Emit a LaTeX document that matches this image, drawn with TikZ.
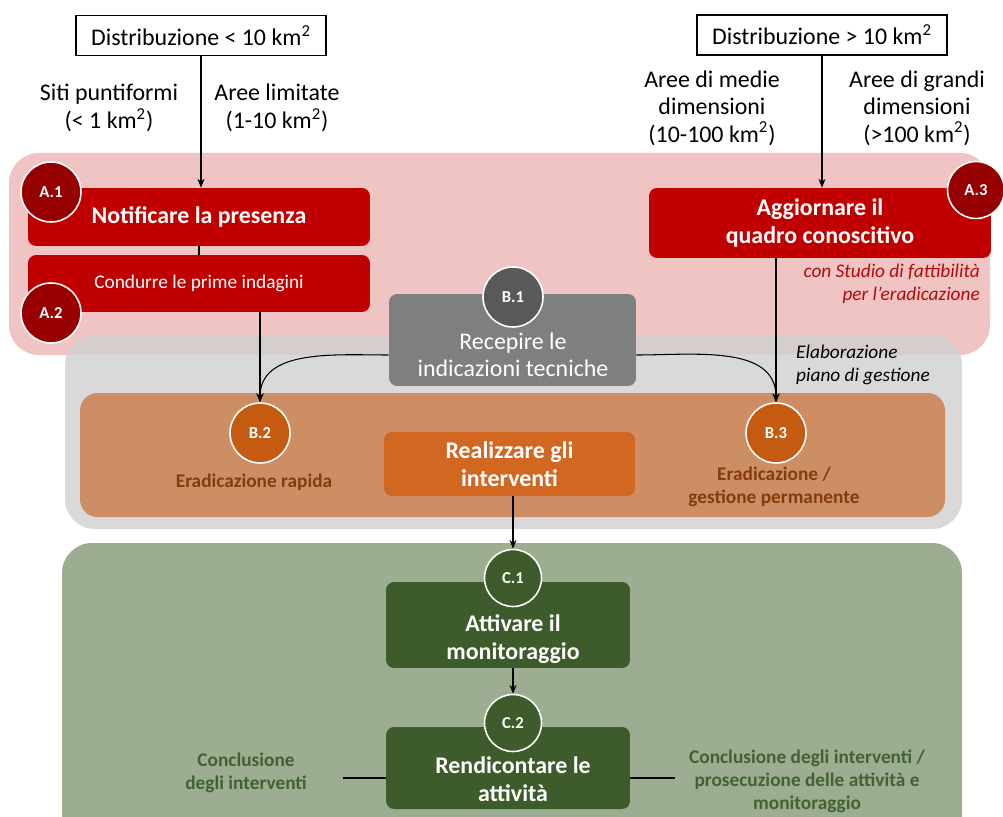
\documentclass[tikz,border=0pt]{standalone}
\usepackage{fontspec}
\setmainfont{Carlito}
\usetikzlibrary{arrows.meta, positioning, calc, backgrounds}
\definecolor{pinkbg}{RGB}{241,196,196}
\definecolor{greybg}{RGB}{208,208,208}
\definecolor{orangebg}{RGB}{206,142,101}
\definecolor{greenbg}{RGB}{156,173,145}
\definecolor{redbox}{RGB}{192,0,0}
\definecolor{redcirc}{RGB}{150,0,0}
\definecolor{greybox}{RGB}{127,127,127}
\definecolor{greycirc}{RGB}{89,89,89}
\definecolor{orangebox}{RGB}{209,103,33}
\definecolor{orangecirc}{RGB}{197,90,17}
\definecolor{browntext}{RGB}{132,60,12}
\definecolor{greenbox}{RGB}{61,91,43}
\definecolor{greentext}{RGB}{66,98,50}
\definecolor{italred}{RGB}{180,10,10}
\newcommand{\fsbig}{\fontsize{13.6}{15.6}\selectfont}
\newcommand{\fsmid}{\fontsize{11}{13}\selectfont}
\newcommand{\fscirc}{\fontsize{9.5}{11}\selectfont}
\newcommand{\kmq}{km\textsuperscript{2}}

\begin{document}
\begin{tikzpicture}[
        x=0.02cm, y=-0.02cm,
        region/.style={rounded corners=0.6cm, draw=none},
        distbox/.style={rectangle, draw=black, line width=0.7pt, fill=white, minimum width=5cm, minimum height=0.8cm, font=\fsbig},
        lbl/.style={align=center, font=\fsbig},
        stepbox/.style={rectangle, rounded corners=0.16cm, align=center, text=white, inner sep=0pt},
        numc/.style={circle, draw=white, line width=0.9pt, minimum size=1.2cm, inner sep=0pt, text=white, font=\fscirc\bfseries},
        wtext/.style={align=center, text=white, font=\fsbig},
        arr/.style={-{Stealth[length=5pt,width=4pt]}, line width=0.6pt}
    ]
        \useasboundingbox (0,0) rectangle (1003,817);
        \clip (0,0) rectangle (1003,817);

        % phase backgrounds
        \fill[region, pinkbg] (9,153) rectangle (990,355);
        \fill[region, greybg, fill opacity=0.8] (65,335) rectangle (962,529);
        \fill[region, orangebg, rounded corners=0.35cm] (80,393) rectangle (945,517);
        \fill[region, greenbg] (62,543) rectangle (962,860);

        % top: distribution
        \node[distbox] (dsmall) at (201,35.5) {Distribuzione < 10 \kmq};
        \node[distbox] (dlarge) at (822,35) {Distribuzione > 10 \kmq};
        \node[lbl] (siti) at (109,108) {Siti puntiformi\\(< 1 \kmq)};
        \node[lbl] (limit) at (277,108) {Aree limitate\\(1-10 \kmq)};
        \node[lbl] (medie) at (712,108) {Aree di medie\\dimensioni\\(10-100 \kmq)};
        \node[lbl] (grandi) at (917,108) {Aree di grandi\\dimensioni\\(>100 \kmq)};

        % phase A
        \node[stepbox, fill=redbox, minimum width=6.84cm, minimum height=1.16cm, font=\fsbig\bfseries] (a1) at (199,217) {Notificare la presenza};
        \node[stepbox, fill=redbox, minimum width=6.84cm, minimum height=1.14cm, font=\fsmid] (a2) at (199,283.5) {Condurre le prime indagini};
        \node[stepbox, fill=redbox, minimum width=6.84cm, minimum height=1.4cm, font=\fsbig\bfseries] (a3) at (820,223) {Aggiornare il\\quadro conoscitivo};
        \node[numc, fill=redcirc] (ca1) at (51,192) {A.1};
        \node[numc, fill=redcirc] (ca2) at (51,313) {A.2};
        \node[numc, fill=redcirc, minimum size=1.14cm] (ca3) at (976,190) {A.3};
        \node[align=right, anchor=east, text=italred, font=\fsmid\itshape] (studio) at (986,284) {con Studio di fattibilità\\per l’eradicazione};

        % phase B
        \node[stepbox, fill=greybox, minimum width=4.94cm, minimum height=1.84cm] (b1) at (512.5,340) {};
        \node[wtext] (b1t) at (513,355) {Recepire le\\indicazioni tecniche};
        \node[numc, fill=greycirc] (cb1) at (513,297) {B.1};
        \node[stepbox, fill=orangebox, minimum width=5.02cm, minimum height=1.28cm, font=\fsbig\bfseries] (b4) at (509.5,464) {Realizzare gli\\interventi};
        \node[numc, fill=orangecirc] (cb2) at (260,433) {B.2};
        \node[numc, fill=orangecirc] (cb3) at (776,433) {B.3};
        \node[align=center, text=browntext, font=\fsmid\bfseries] (rapida) at (254,482) {Eradicazione rapida};
        \node[align=center, text=browntext, font=\fsmid\bfseries] (perm) at (774,487) {Eradicazione /\\gestione permanente};
        \node[align=left, anchor=west, font=\fsmid\itshape] (piano) at (790,365) {Elaborazione\\piano di gestione};

        % phase C
        \node[stepbox, fill=greenbox, minimum width=4.88cm, minimum height=1.72cm] (c1) at (508,625) {};
        \node[wtext, font=\fsbig\bfseries] (c1t) at (513,639) {Attivare il\\monitoraggio};
        \node[numc, fill=greenbox, minimum size=1.14cm] (cc1) at (513,578) {C.1};
        \node[stepbox, fill=greenbox, minimum width=4.88cm, minimum height=1.64cm] (c2) at (508,768) {};
        \node[wtext, font=\fsbig\bfseries] (c2t) at (513,779) {Rendicontare le\\attività};
        \node[numc, fill=greenbox, minimum size=1.14cm] (cc2) at (513,723) {C.2};
        \node[align=center, text=greentext, font=\fsmid\bfseries] (concl) at (246,773) {Conclusione\\degli interventi};
        \node[align=center, text=greentext, font=\fsmid\bfseries] (prosec) at (807,781) {Conclusione degli interventi /\\prosecuzione delle attività e\\monitoraggio};
        \coordinate (lend) at (343,778);
        \coordinate (rend) at (675,778);

        % connectors
        \draw[arr] (dsmall.south) -- (dsmall.south |- a1.north);
        \draw[arr] (dlarge.south) -- (dlarge.south |- a3.north);
        \draw[line width=0.6pt] (a1.south) -- (a2.north);
        \draw[arr] (a2.south -| cb2.north) -- (cb2.north);
        \draw[arr] (a3.south -| cb3.north) -- (cb3.north);
        \draw[arr] (b1t.west -| b1.west) to[out=180, in=90] (cb2.north);
        \draw[arr] (b1t.east -| b1.east) to[out=0, in=90] (cb3.north);
        \draw[arr] (b4.south -| cc1.north) -- (cc1.north);
        \draw[arr] (c1.south -| cc2.north) -- (cc2.north);
        \draw[line width=0.6pt] (lend) -- (lend -| c2.west);
        \draw[line width=0.6pt] (rend -| c2.east) -- (rend);
    \end{tikzpicture}
\end{document}
